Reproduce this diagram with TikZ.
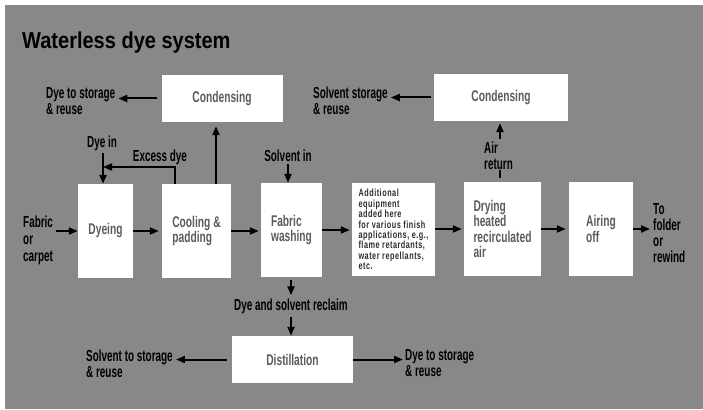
\documentclass[tikz,border=0pt]{standalone}
\usepackage{fontspec}
\usetikzlibrary{arrows.meta,calc}
\newfontfamily\condf[FakeStretch=0.62]{Liberation Sans}
\newfontfamily\boxf[FakeStretch=0.66]{Liberation Sans}
\newfontfamily\smallf[FakeStretch=0.7,LetterSpace=5]{Liberation Sans}
\newfontfamily\titlef[FakeStretch=0.87]{Liberation Sans}
\definecolor{panel}{RGB}{136,136,136}
\definecolor{boxtext}{RGB}{92,92,92}
\definecolor{smalltext}{RGB}{45,45,45}
\begin{document}
\begin{tikzpicture}[x=1pt,y=-1pt,
  box/.style={fill=white,draw=none,inner sep=0pt,align=left,text=boxtext,
    font=\boxf\bfseries\fontsize{15.5}{15.5}\selectfont},
  lbl/.style={inner sep=0pt,align=left,text=black,
    font=\condf\bfseries\fontsize{16}{16}\selectfont},
  arr/.style={line width=2pt,-{Triangle[length=9pt,width=7pt]}},
  ln/.style={line width=2pt}]
\useasboundingbox (0,0) rectangle (703,409);
\fill[white] (0,0) rectangle (703,409);
\fill[panel] (5,5) rectangle (703,409);
% title
\node[anchor=base west,inner sep=0pt,font=\titlef\bfseries\fontsize{23}{24}\selectfont] (title) at (22,49) {Waterless dye system};
% boxes
\node[box,minimum width=121pt,minimum height=47pt] (cond1) at (222,98.5) {Condensing};
\node[box,minimum width=134pt,minimum height=47pt] (cond2) at (501,97.5) {Condensing};
\node[box,minimum width=55pt,minimum height=94pt] (dye) at (105.5,231) {Dyeing};
\node[box,minimum width=69pt,minimum height=94pt] (cool) at (196.5,231) {Cooling \&\\padding};
\node[box,minimum width=61pt,minimum height=94pt] (wash) at (291.5,230) {Fabric\\washing};
\node[box,minimum width=83pt,minimum height=93pt,text=smalltext,
  font=\smallf\bfseries\fontsize{10.4}{10.4}\selectfont] (add) at (393.5,229.5)
  {Additional\\equipment\\added here\\for various finish\\applications, e.g.,\\flame retardants,\\water repellants,\\etc.};
\node[box,minimum width=77pt,minimum height=94pt] (dry) at (502.5,229) {Drying\\heated\\recirculated\\air};
\node[box,minimum width=64pt,minimum height=94pt] (air) at (601,229) {Airing\\off};
\node[box,minimum width=121pt,minimum height=47pt] (dist) at (292.5,359.5) {Distillation};
% labels
\node[lbl,anchor=west] (dts1) at (46,101) {Dye to storage\\\& reuse};
\node[lbl,anchor=west] (sts1) at (313,101) {Solvent storage\\\& reuse};
\node[lbl] (dyein) at (102,143) {Dye in};
\node[lbl] (excess) at (160,157) {Excess dye};
\node[lbl] (solvin) at (288,156) {Solvent in};
\node[lbl,anchor=west,font=\condf\bfseries\fontsize{16}{17}\selectfont] (fabric) at (23,240) {Fabric\\or\\carpet};
\node[lbl,anchor=west] (folder) at (653,233) {To\\folder\\or\\rewind};
\node[lbl,anchor=west] (airret) at (484,156) {Air\\return};
\node[lbl] (reclaim) at (291,306) {Dye and solvent reclaim};
\node[lbl,anchor=west] (sts2) at (86,364) {Solvent to storage\\\& reuse};
\node[lbl,anchor=west] (dts2) at (405,363) {Dye to storage\\\& reuse};
\coordinate (exc) at (103,167);
% connectors
\draw[arr,shorten <=4pt,shorten >=3pt] (cond1.west) -- (cond1.west -| dts1.east);
\draw[arr,shorten <=3pt,shorten >=3pt] (cond2.west) -- (cond2.west -| sts1.east);
\draw[arr,shorten <=2pt] (dyein.south -| exc) -- (exc |- dye.north);
\draw[arr] ([xshift=-21.5pt]cool.north) |- (exc);
\draw[arr,shorten >=4pt] ([xshift=19.5pt]cool.north) -- ([xshift=19.5pt]cool.north |- cond1.south);
\draw[arr,shorten <=2pt] (solvin.south) -- (solvin.south |- wash.north);
\draw[arr,shorten <=3pt] (fabric.east |- dye.west) -- (dye.west);
\draw[arr,shorten >=3pt] (dye.east) -- (cool.west);
\draw[arr,shorten >=2pt] (cool.east) -- (cool.east -| wash.west);
\draw[arr,shorten >=2pt] (wash.east) -- (wash.east -| add.west);
\draw[arr,shorten >=2pt] (add.east |- dry.west) -- (dry.west);
\draw[arr,shorten >=3pt] (dry.east) -- (air.west);
\draw[arr,shorten >=3pt] (air.east) -- (air.east -| folder.west);
\draw[ln,shorten <=4pt] ([xshift=-2.5pt]dry.north) -- ([xshift=-2.5pt]dry.north |- airret.south);
\draw[arr,shorten <=3pt,shorten >=2pt] ([xshift=-2.5pt]dry.north |- airret.north) -- ([xshift=-2.5pt]dry.north |- cond2.south);
\draw[arr,shorten <=3pt,shorten >=3pt] (wash.south -| reclaim.north) -- (reclaim.north);
\draw[arr,shorten <=3pt] (reclaim.south) -- (reclaim.south |- dist.north);
\draw[arr,shorten <=5pt,shorten >=3pt] (dist.west) -- (dist.west -| sts2.east);
\draw[arr,shorten >=2pt] (dist.east) -- (dist.east -| dts2.west);
\end{tikzpicture}
\end{document}
